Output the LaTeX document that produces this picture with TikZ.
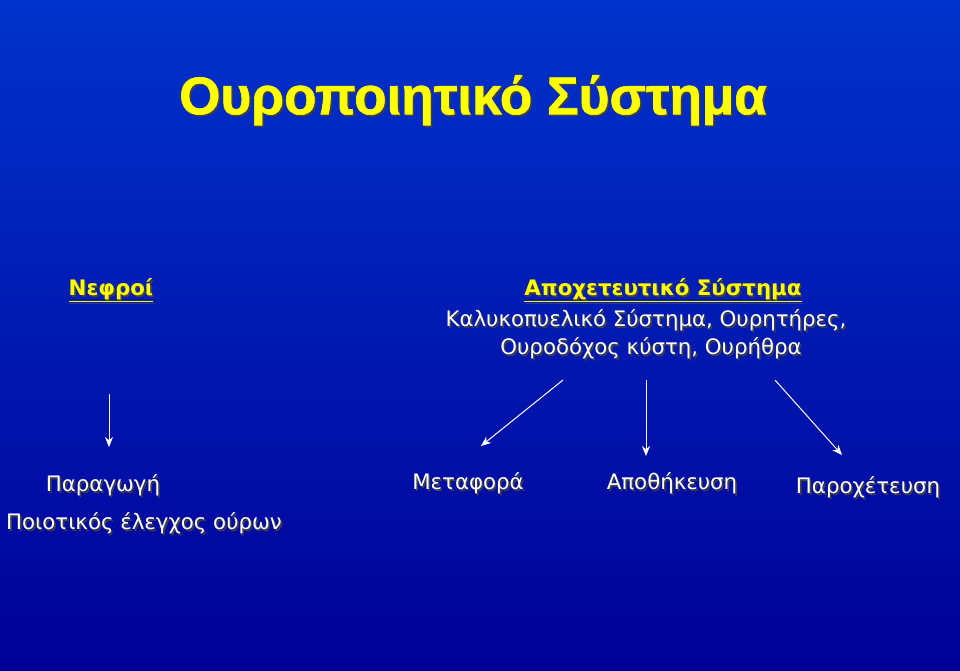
\documentclass[tikz,border=0pt]{standalone}
\usepackage{fontspec}
\setmainfont{Liberation Sans}
\newfontfamily\bodyfont{DejaVu Sans}
\newfontfamily\titlefont[FakeBold=1.2]{Liberation Sans Bold}
\definecolor{bgtop}{RGB}{0,51,204}
\definecolor{bgbot}{RGB}{0,0,150}
\definecolor{ttl}{RGB}{255,255,0}
\newcommand{\shd}[2]{\rlap{\kern1.6pt\raisebox{-1.6pt}{\color{black!75}#2}}{\color{#1}#2}}
\usetikzlibrary{arrows.meta}
\tikzset{
  lbl/.style={inner sep=0pt, anchor=center, font=\bodyfont\fontsize{21.3}{25}\selectfont},
  hdr/.style={inner sep=0pt, anchor=center, font=\bodyfont\fontsize{21.3}{25}\selectfont\bfseries},
  arr/.style={draw=white, line width=1pt, -{Stealth[length=10pt,width=8pt]}},
}
\begin{document}
\begin{tikzpicture}[x=1pt,y=-1pt]
\useasboundingbox (0,0) rectangle (960,671);
\shade[top color=bgtop, bottom color=bgbot] (0,0) rectangle (960,671);
\node[inner sep=0pt, font=\titlefont\fontsize{53}{58}\selectfont] (title) at (473,101) {\shd{ttl}{Ουροποιητικό Σύστημα}};
\node[hdr] (nefroi) at (111,291) {\shd{ttl}{\underline{Νεφροί}}};
\node[hdr] (apox) at (663,291) {\shd{ttl}{\underline{Αποχετευτικό Σύστημα}}};
\node[lbl] (l1) at (646,321) {\shd{white}{Καλυκοπυελικό Σύστημα, Ουρητήρες,}};
\node[lbl] (l2) at (651,349) {\shd{white}{Ουροδόχος κύστη, Ουρήθρα}};
\coordinate (a1s) at (109,394);
\coordinate (a2s) at (563,380);
\coordinate (a3s) at (646,380);
\coordinate (a4s) at (775,380);
\coordinate (a1e) at (109,447);
\coordinate (a2e) at (481,446);
\coordinate (a3e) at (646,456);
\coordinate (a4e) at (842,455);
\draw[arr] (a1s) -- (a1e);
\draw[arr] (a2s) -- (a2e);
\draw[arr] (a3s) -- (a3e);
\draw[arr] (a4s) -- (a4e);
\node[lbl] (parag) at (103,486) {\shd{white}{Παραγωγή}};
\node[lbl] (poiot) at (144,524) {\shd{white}{Ποιοτικός έλεγχος ούρων}};
\node[lbl] (metaf) at (468,484) {\shd{white}{Μεταφορά}};
\node[lbl] (apoth) at (672,484) {\shd{white}{Αποθήκευση}};
\node[lbl] (paroch) at (868,488) {\shd{white}{Παροχέτευση}};
\end{tikzpicture}
\end{document}
